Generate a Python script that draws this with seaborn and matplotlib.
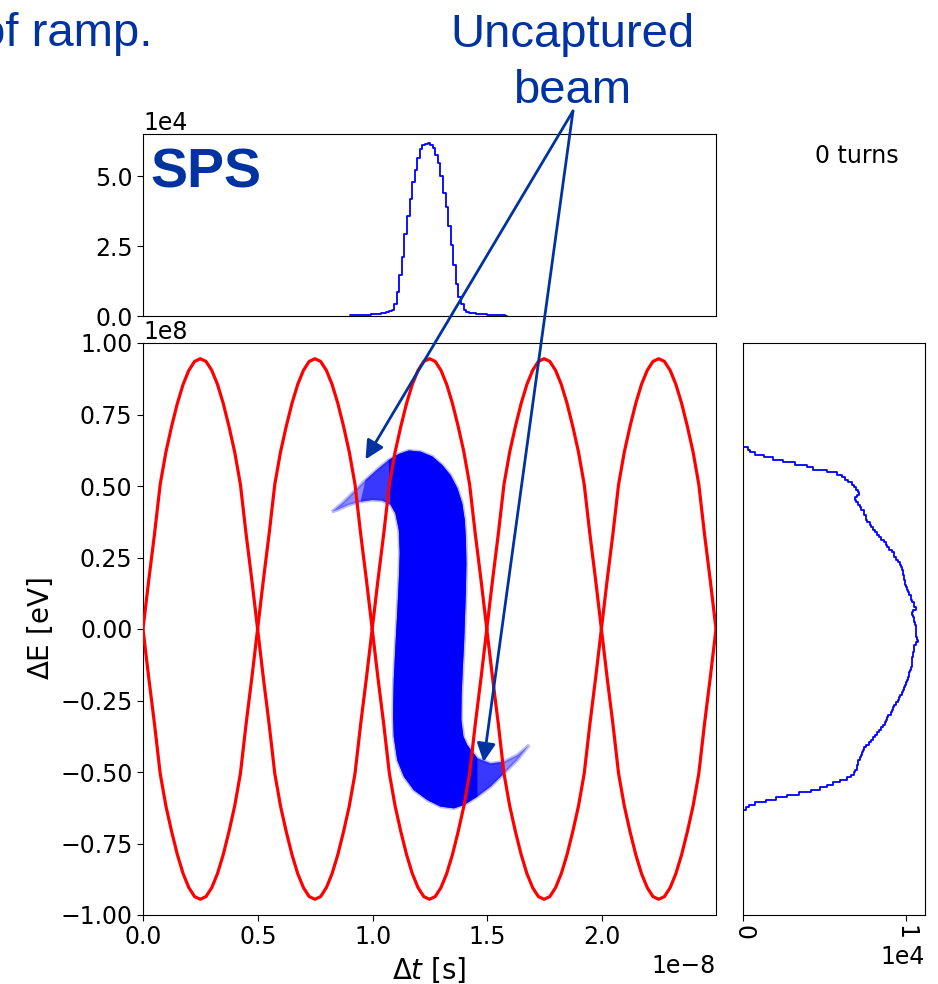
import numpy as np
import pandas as pd
import matplotlib
matplotlib.use("Agg")
import matplotlib.pyplot as plt
from matplotlib.patches import ConnectionPatch
import seaborn as sns

# ---------------------------------------------------------------------------
# SPS longitudinal phase space, 0 turns
# ---------------------------------------------------------------------------
T_RF = 0.499e-8            # RF period [s]
N_BUCKETS = 5
SEP_HEIGHT = 0.945e8       # separatrix half-height [eV]

# one bucket of the separatrix: fraction of the RF period -> fraction of height
sep_phase = [0.000, 0.025, 0.050, 0.075, 0.100, 0.150, 0.200, 0.250, 0.300, 0.350,
             0.400, 0.450, 0.500, 0.550, 0.600, 0.650, 0.700, 0.750, 0.800, 0.850,
             0.900, 0.925, 0.950, 0.975, 1.000]
sep_shape = [0.000, 0.090, 0.180, 0.265, 0.350, 0.535, 0.655, 0.750, 0.835, 0.905,
             0.957, 0.990, 1.000, 0.990, 0.957, 0.905, 0.835, 0.750, 0.655, 0.535,
             0.350, 0.265, 0.180, 0.090, 0.000]

# outline of the bunch (dt in 1e-8 s, dE in 1e8 eV), clockwise from the upper tail tip
beam_t = [0.823, 0.874, 0.918, 0.969, 1.020, 1.070, 1.114, 1.158, 1.209, 1.260,
          1.303, 1.339, 1.369, 1.390, 1.401, 1.406, 1.408, 1.406, 1.402, 1.398,
          1.392, 1.387, 1.386, 1.395, 1.412, 1.456, 1.514, 1.572, 1.630, 1.681,
          1.630, 1.572, 1.514, 1.456, 1.398, 1.354, 1.296, 1.238, 1.179, 1.136,
          1.107, 1.092, 1.089, 1.092, 1.099, 1.107, 1.114, 1.118, 1.114, 1.099,
          1.078, 1.041, 0.998, 0.947, 0.896, 0.845]
beam_dE = [0.410, 0.445, 0.480, 0.521, 0.558, 0.591, 0.612, 0.624, 0.620, 0.603,
           0.573, 0.538, 0.492, 0.439, 0.381, 0.311, 0.230, 0.136, 0.043, -0.050,
           -0.143, -0.237, -0.318, -0.376, -0.406, -0.452, -0.470, -0.464, -0.441, -0.406,
           -0.458, -0.505, -0.551, -0.586, -0.615, -0.627, -0.621, -0.598, -0.563, -0.516,
           -0.458, -0.376, -0.295, -0.178, -0.062, 0.055, 0.171, 0.265, 0.346, 0.405,
           0.434, 0.449, 0.451, 0.445, 0.434, 0.416]

# bunch profile in time
T_PROF_START = 0.903e-8
T_PROF_WIDTH = 0.0112e-8
t_prof_counts = [240, 240, 240, 360, 360, 360, 360, 480, 600, 600, 720, 840, 950, 1070, 1310, 1670,
                 2270, 4410, 8590, 14550, 21120, 29230, 35670, 41640, 47720, 52130, 56310, 59530,
                 61080, 61440, 61680, 61080, 59890, 57500, 54520, 49990, 44020, 38770, 32090,
                 25290, 18130, 11330, 6800, 4410, 2030, 1310,
                 1070, 950, 950, 840, 720, 600, 600, 480, 480, 360, 360, 360, 240, 240, 120]

# energy profile, listed from the highest energy bin downwards
DE_PROF_TOP = 0.635e8
DE_PROF_WIDTH = 0.00874e8
dE_prof_counts = [310, 410, 720, 1280, 1850, 2470, 3190, 3910, 4330, 5190, 5770, 6080, 6280,
                  6490, 6700, 6840, 6960, 7050, 7130, 7000, 6880, 6960, 7050, 7210, 7290, 7420,
                  7460, 7540, 7580, 7660, 7790, 7870, 7990, 8120, 8240, 8340, 8490, 8650, 8780,
                  8860, 8980, 9170, 9270, 9310, 9390, 9520, 9640, 9740, 9790, 9830, 9850, 9890,
                  9930, 9950, 9990, 10030, 10090, 10160, 10240, 10340, 10320, 10400, 10510,
                  10550, 10630, 10460, 10400, 10460, 10510, 10550, 10590, 10630, 10670,
                  10630, 10650, 10670, 10730, 10750, 10630, 10530, 10510, 10510, 10460, 10460,
                  10420, 10400, 10400, 10380, 10340, 10300, 10240, 10200, 10140, 10090, 10010,
                  9950, 9910, 9870, 9810, 9680, 9600, 9520, 9430, 9310, 9230, 9190, 9110, 8940,
                  8860, 8780, 8710, 8610, 8490, 8340, 8240, 8120, 7990, 7870, 7770, 7580, 7460,
                  7400, 7330, 7250, 7170, 7090, 7050, 7000, 7000, 6920, 6800, 6650, 6430, 5970,
                  5560, 5190, 4740, 4160, 3460, 2680, 2020, 1400, 720, 370, 160]

# arrow targets (dt in 1e-8 s, dE in 1e8 eV)
arrow_targets = [(0.969, 0.593), (1.483, -0.465)]

NAVY = "#0033a0"
BEAM = "#0000ff"

# ---------------------------------------------------------------------------
sns.set_style("ticks", {
    "axes.edgecolor": "black",
    "axes.linewidth": 0.9,
    "xtick.color": "black",
    "ytick.color": "black",
    "text.color": "black",
    "axes.labelcolor": "black",
})
plt.rcParams["font.family"] = ["DejaVu Sans"]
plt.rcParams["xtick.labelsize"] = 17
plt.rcParams["ytick.labelsize"] = 17
plt.rcParams["axes.labelsize"] = 20
plt.rcParams["xtick.major.size"] = 4
plt.rcParams["ytick.major.size"] = 4

W, H = 938, 984
fig = plt.figure(figsize=(W / 100, H / 100), dpi=100)


def box(x0, y0, x1, y1):
    """Axes rectangle from pixel corners measured from the top-left."""
    return [x0 / W, 1 - y1 / H, (x1 - x0) / W, (y1 - y0) / H]


ax_main = fig.add_axes(box(143, 343, 716, 915))
ax_top = fig.add_axes(box(143, 134, 716, 316), sharex=ax_main)
ax_right = fig.add_axes(box(743, 343, 925, 915), sharey=ax_main)

# --- bunch distribution (dense core, filamented tails with a soft fringe) ---
bt = np.array(beam_t)
bE = np.array(beam_dE)
mid = (bt >= 0.92) & (bt <= 1.60)
core = (bt >= 1.06) & (bt <= 1.47)
ax_main.fill(bt * 1e-8, bE * 1e8, facecolor="none", edgecolor=BEAM,
             alpha=0.25, lw=2.5, zorder=1)
ax_main.fill(bt * 1e-8, bE * 1e8, facecolor=BEAM, alpha=0.45,
             edgecolor="none", zorder=1)
ax_main.fill(bt[mid] * 1e-8, bE[mid] * 1e8, facecolor=BEAM, alpha=0.6,
             edgecolor="none", zorder=1)
ax_main.fill(bt[core] * 1e-8, bE[core] * 1e8, facecolor=BEAM, alpha=1.0,
             edgecolor="none", zorder=1)

# --- separatrices ---
rows = []
for k in range(N_BUCKETS):
    for sign, branch in ((1, "upper"), (-1, "lower")):
        for p, s in zip(sep_phase, sep_shape):
            rows.append({"t": (k + p) * T_RF, "dE": sign * SEP_HEIGHT * s,
                         "curve": f"{k}-{branch}"})
sep_df = pd.DataFrame(rows)
sns.lineplot(data=sep_df, x="t", y="dE", units="curve", estimator=None, sort=False,
             color="red", lw=2.3, ax=ax_main, zorder=3, legend=False)

ax_main.set_xlim(0, N_BUCKETS * T_RF)
ax_main.set_ylim(-1e8, 1e8)
ax_main.set_xticks(np.array([0.0, 0.5, 1.0, 1.5, 2.0]) * 1e-8)
ax_main.set_yticks(np.arange(-1.0, 1.01, 0.25) * 1e8)
ax_main.set_xlabel(r"$\Delta t$ [s]", fontsize=20)
ax_main.set_ylabel(r"$\Delta$E [eV]", fontsize=20)

# --- time profile ---
t_edges = T_PROF_START + T_PROF_WIDTH * np.arange(len(t_prof_counts) + 1)
t_df = pd.DataFrame({"t": 0.5 * (t_edges[1:] + t_edges[:-1]),
                     "count": np.array(t_prof_counts, dtype=float)})
sns.histplot(data=t_df, x="t", weights="count", bins=list(t_edges), element="step",
             fill=False, color=BEAM, lw=1.3, ax=ax_top)
ax_top.set_ylim(0, 6.5e4)
ax_top.set_yticks([0, 2.5e4, 5.0e4])
ax_top.ticklabel_format(axis="y", style="sci", scilimits=(0, 0))
ax_top.tick_params(axis="x", bottom=False, labelbottom=False)
ax_top.set_xlabel("")
ax_top.set_ylabel("")

# --- energy profile ---
dE_counts = np.array(dE_prof_counts, dtype=float)[::-1]
dE_edges = (DE_PROF_TOP - DE_PROF_WIDTH * np.arange(len(dE_counts) + 1))[::-1]
dE_edges = np.concatenate([[-1e8], dE_edges, [1e8]])
dE_counts = np.concatenate([[0.0], dE_counts, [0.0]])
dE_df = pd.DataFrame({"dE": 0.5 * (dE_edges[1:] + dE_edges[:-1]), "count": dE_counts})
sns.histplot(data=dE_df, y="dE", weights="count", bins=list(dE_edges), element="step",
             fill=False, color=BEAM, lw=1.3, ax=ax_right)
ax_right.set_xlim(0, 1.12e4)
ax_right.set_xticks([0, 1e4])
ax_right.ticklabel_format(axis="x", style="sci", scilimits=(0, 0))
ax_right.tick_params(axis="y", left=False, labelleft=False)
ax_right.tick_params(axis="x", labelrotation=-90)
ax_right.set_xlabel("")
ax_right.set_ylabel("")
ax_main.set_ylim(-1e8, 1e8)

# --- annotations ---
fig.text(152 / W, 1 - 46 / H, "of ramp.", ha="right", va="baseline",
         fontsize=34, color=NAVY, family=["Liberation Sans"])
fig.text(572 / W, 1 - 103 / H, "Uncaptured\nbeam", ha="center", va="baseline",
         fontsize=34, color=NAVY, family=["Liberation Sans"], linespacing=1.36,
         multialignment="center")
fig.text(150 / W, 1 - 188 / H, "SPS", ha="left", va="baseline", fontsize=40,
         fontweight="bold", color=NAVY, family=["Liberation Sans"])
fig.text(857 / W, 1 - 163 / H, "0 turns", ha="center", va="baseline", fontsize=17)

for tx, ty in arrow_targets:
    arrow = ConnectionPatch(xyA=(573 / W, 1 - 111 / H), coordsA=fig.transFigure,
                            xyB=(tx * 1e-8, ty * 1e8), coordsB=ax_main.transData,
                            arrowstyle="-|>", color=NAVY, lw=2.0,
                            mutation_scale=28, shrinkA=0, shrinkB=0, zorder=10)
    fig.add_artist(arrow)

fig.savefig("out.png", dpi=100)
